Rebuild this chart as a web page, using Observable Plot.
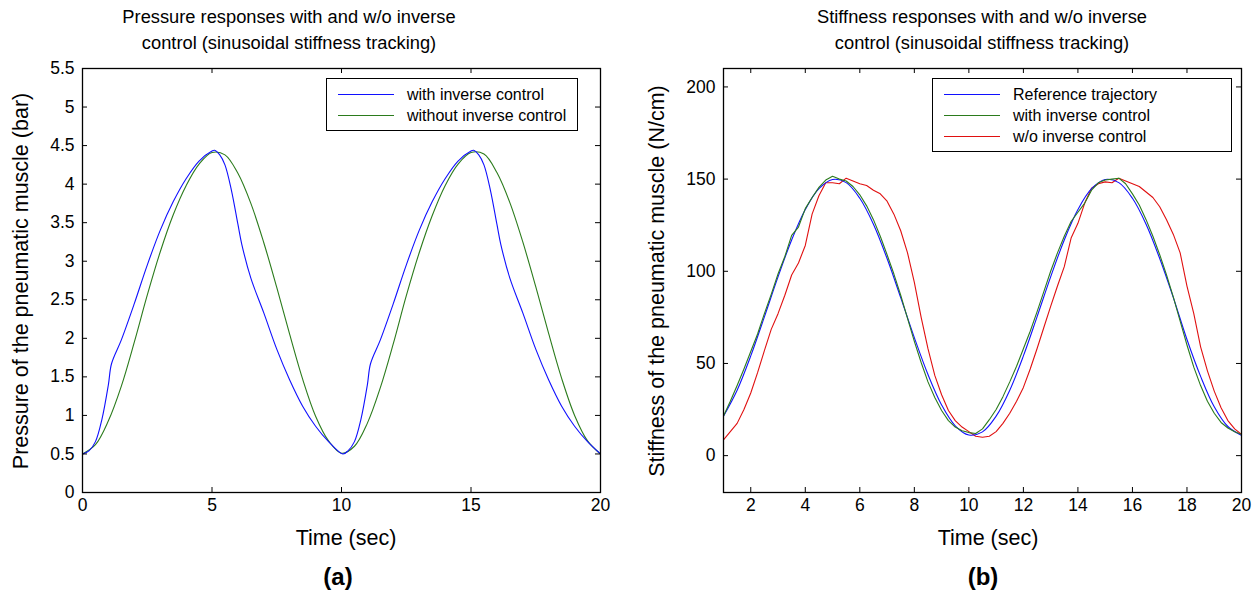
<!DOCTYPE html>
<html><head><meta charset="utf-8">
<script src="https://cdn.jsdelivr.net/npm/d3@7"></script>
<script src="https://cdn.jsdelivr.net/npm/@observablehq/plot@0.6"></script>
<style>
body{margin:0;background:#fff;}
#root{position:relative;width:1257px;height:599px;font-family:"Liberation Sans",Arial,sans-serif;color:#000;overflow:hidden;}
#root svg{position:absolute;top:0;}
.abs{position:absolute;white-space:nowrap;z-index:2;}
.title{font-size:18.3px;line-height:26px;text-align:center;transform:translateX(-50%);}
.xlab{font-size:21.5px;line-height:22px;transform:translateX(-50%);}
.cap{font-size:24px;line-height:24px;font-weight:bold;transform:translateX(-50%);}
.ylab{font-size:21.5px;line-height:22px;transform:translate(-50%,-50%) rotate(-90deg);}
.legend{border:1.3px solid #000;background:#fff;font-size:16px;box-sizing:border-box;}
.legend .row{position:absolute;left:0;height:21px;line-height:21px;width:100%;}
.legend .sw{position:absolute;left:11px;top:10px;width:56px;height:0;border-top:1.2px solid;}
.legend .tx{position:absolute;left:80px;top:0;}
</style></head>
<body><div id="root"></div>
<script>
// ---------- Panel (a): pressure ----------
const pressTitle = ["Pressure responses with and w/o inverse", "control (sinusoidal stiffness tracking)"];
const pressXLabel = "Time (sec)";
const pressYLabel = "Pressure of the pneumatic muscle (bar)";
const pressXTicks = [0, 5, 10, 15, 20];
const pressYTicks = [0, 0.5, 1, 1.5, 2, 2.5, 3, 3.5, 4, 4.5, 5, 5.5];
const pressSeries = ["with inverse control", "without inverse control"];

const pressWithT = [0,0.25,0.5,0.75,1.0,1.12,1.5,2.0,2.5,3.0,3.5,4.0,4.5,5.0,5.1,5.3,5.5,5.75,6.0,6.15,6.5,7.0,7.5,8.0,8.5,9.0,9.5,10.05,
  10.25,10.5,10.75,11.0,11.12,11.5,12,12.5,13,13.5,14,14.5,15,15.1,15.3,15.5,15.75,16,16.15,16.5,17,17.5,18,18.5,19,19.5,20];
const pressWithV = [0.50,0.54,0.66,0.95,1.40,1.67,1.98,2.45,2.95,3.40,3.77,4.07,4.30,4.43,4.44,4.38,4.25,3.92,3.48,3.22,2.78,2.33,1.86,1.46,1.12,0.86,0.66,0.50,
  0.54,0.66,0.95,1.40,1.67,1.98,2.45,2.95,3.40,3.77,4.07,4.30,4.43,4.44,4.38,4.25,3.92,3.48,3.22,2.78,2.33,1.86,1.46,1.12,0.86,0.66,0.50];
const pressWithoutT = [0,0.5,1,1.5,2,2.5,3,3.5,4,4.5,5,5.5,6,6.5,7,7.5,8,8.5,9,9.5,10,
  10.5,11,11.5,12,12.5,13,13.5,14,14.5,15,15.5,16,16.5,17,17.5,18,18.5,19,19.5,20];
const pressWithoutV = [0.50,0.62,0.93,1.38,1.95,2.56,3.12,3.60,3.98,4.26,4.41,4.38,4.14,3.75,3.24,2.66,2.05,1.47,0.99,0.67,0.51,
  0.60,0.90,1.36,1.93,2.55,3.11,3.59,3.98,4.26,4.41,4.39,4.15,3.76,3.25,2.67,2.06,1.48,1.00,0.67,0.50];

// ---------- Panel (b): stiffness ----------
const stiffTitle = ["Stiffness responses with and w/o inverse", "control (sinusoidal stiffness tracking)"];
const stiffXLabel = "Time (sec)";
const stiffYLabel = "Stiffness of the pneumatic muscle (N/cm)";
const stiffXTicks = [2, 4, 6, 8, 10, 12, 14, 16, 18, 20];
const stiffYTicks = [0, 50, 100, 150, 200];
const stiffSeries = ["Reference trajectory", "with inverse control", "w/o inverse control"];

const refT = [1,1.5,2,2.5,3,3.5,4,4.5,5,5.5,6,6.5,7,7.5,8,8.5,9,9.5,10,
  10.5,11,11.5,12,12.5,13,13.5,14,14.5,15,15.5,16,16.5,17,17.5,18,18.5,19,19.5,20];
const refV = [21.4,35.5,54.1,75.3,97,117,133.5,144.8,149.8,148.1,139.6,125.5,106.9,85.7,64,44,27.5,16.2,11.2,
  12.9,21.4,35.5,54.1,75.3,97,117,133.5,144.8,149.8,148.1,139.6,125.5,106.9,85.7,63,43,26.5,15.8,11];

const measT = d3.range(1, 20.001, 0.25);
const withInvV = [21.5,29.5,38,47, 56.5,66,77,87.5, 98.5,108,119.5,124, 134,140,145.5,149.5,
  151.5,150,149,146, 141.5,135.5,128,119, 109,98.5,87,74.5, 62,50.5,40,31.5, 24.5,19,15.5,13.5,
  12.5,12,14.5,19.5, 25,32,40,48.5, 58,67.5,78,89, 100,110,119,127, 132,137,144,148,
  149.5,150,150.5,147.5, 142,136,128,119, 109,98,86,73, 60,48,38,29.5, 23,18,15,13, 11.5];
const woInvV = [8.5,13,17.5,25, 34,45,57,68.5, 77,87,98,104.5, 114,131,141,148,
  148,147.5,150.5,149, 147.5,146.5,144,142, 138,131,122,110, 94,75,58,43.5, 33,24.5,19,15.5,
  13,10.5,10,10.5, 13,17.5,23,29.5, 37,47,58,69.5, 81,92,102.5,118, 126,137,145,147.5,
  148.5,148,150.5,149, 147.5,146,143,140, 135,128,120,110, 92,77,59,46, 35,26,19,14.5, 11.5];

const colors = {blue: "#1010ff", green: "#2b7b1c", red: "#e01010"};

const root = document.getElementById("root");
const H = 599, MT = 68, MB = 107;

function panel({left, width, ml, mr, xDomain, yDomain, xTicks, yTicks, lines}) {
  const plotW = width - ml - mr, plotH = H - MT - MB;
  const svg = Plot.plot({
    width, height: H, marginTop: MT, marginBottom: MB, marginLeft: ml, marginRight: mr,
    x: {domain: xDomain}, y: {domain: yDomain},
    style: {fontFamily: '"Liberation Sans", Arial, sans-serif', fontSize: "17px", color: "black", background: "transparent", overflow: "visible"},
    marks: [
      ...lines.map(s => Plot.line(s.data, {x: "t", y: "v", stroke: s.color, strokeWidth: 1.1, curve: s.curve || "linear", clip: true})),
      Plot.tickX(xTicks, {x: d => d, insetTop: plotH - 5, stroke: "black"}),
      Plot.tickX(xTicks, {x: d => d, insetBottom: plotH - 5, stroke: "black"}),
      Plot.tickY(yTicks, {y: d => d, insetRight: plotW - 5, stroke: "black"}),
      Plot.tickY(yTicks, {y: d => d, insetLeft: plotW - 5, stroke: "black"}),
      Plot.frame({stroke: "black", strokeWidth: 1.3}),
      Plot.axisX(xTicks, {tickSize: 0, tickPadding: 6, label: null, fontSize: 17.5, tickFormat: d => String(d)}),
      Plot.axisY(yTicks, {tickSize: 0, tickPadding: 8, label: null, fontSize: 17.5, tickFormat: d => String(d)})
    ]
  });
  svg.style.left = left + "px";
  root.appendChild(svg);
}

function div(cls, x, y, html, extra) {
  const d = document.createElement("div");
  d.className = "abs " + cls;
  d.style.left = x + "px"; d.style.top = y + "px";
  d.innerHTML = html;
  if (extra) Object.assign(d.style, extra);
  root.appendChild(d);
  return d;
}

function legend(x, y, w, names, cols) {
  const h = 15.5 + 21 * (names.length - 1) + 16.5;
  const d = div("legend", x, y, "", {width: w + "px", height: h + "px"});
  names.forEach((n, i) => {
    const r = document.createElement("div");
    r.className = "row"; r.style.top = (5 + 21 * i) + "px";
    r.innerHTML = `<div class="sw" style="border-color:${cols[i]}"></div><div class="tx">${n}</div>`;
    d.appendChild(r);
  });
}

const zip = (T, V) => T.map((t, i) => ({t, v: V[i]}));

// Panel (a)
panel({left: 0, width: 640, ml: 82, mr: 40, xDomain: [0, 20], yDomain: [0, 5.5],
  xTicks: pressXTicks, yTicks: pressYTicks,
  lines: [
    {data: zip(pressWithoutT, pressWithoutV), color: colors.green, curve: "catmull-rom"},
    {data: zip(pressWithT, pressWithV), color: colors.blue, curve: "catmull-rom"}
  ]});
// Panel (b)
panel({left: 640, width: 617, ml: 83, mr: 16, xDomain: [1, 20], yDomain: [-20, 210],
  xTicks: stiffXTicks, yTicks: stiffYTicks,
  lines: [
    {data: zip(measT, woInvV), color: colors.red},
    {data: zip(refT, refV), color: colors.blue, curve: "catmull-rom"},
    {data: zip(measT, withInvV), color: colors.green}
  ]});

// Titles, labels, captions, legends
div("title", 289, 4, pressTitle.join("<br>"));
div("title", 982, 4, stiffTitle.join("<br>"));
div("xlab", 346, 527, pressXLabel);
div("xlab", 988, 527, stiffXLabel);
div("ylab", 21, 281, pressYLabel);
div("ylab", 657, 281, stiffYLabel);
div("cap", 338, 565, "(a)");
div("cap", 983, 565, "(b)");
legend(326, 78, 252, pressSeries, [colors.blue, colors.green]);
legend(932, 78, 300, stiffSeries, [colors.blue, colors.green, colors.red]);
</script>
</body></html>
